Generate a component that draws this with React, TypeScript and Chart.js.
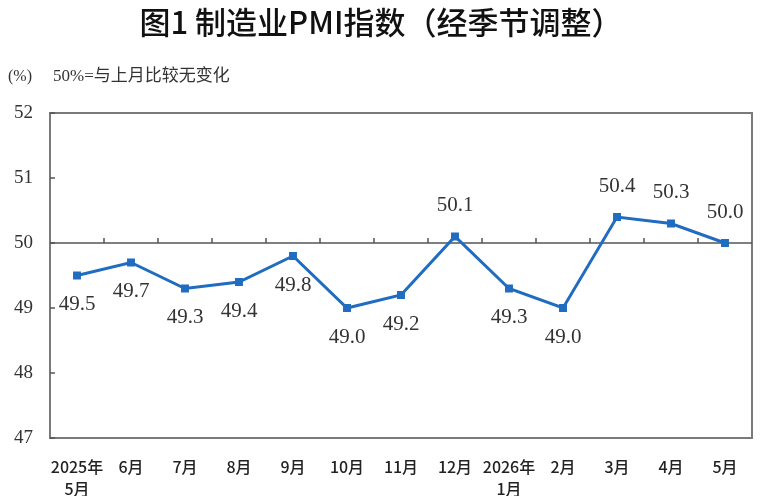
import React, { useEffect, useRef } from "react";
import { Chart, registerables } from "chart.js";

Chart.register(...registerables);

const TITLE = "图1 制造业PMI指数（经季节调整）";
const UNIT = "(%)";
const NOTE = "50%=与上月比较无变化";
const categories: (string | string[])[] = [
  ["2025年", "5月"], "6月", "7月", "8月", "9月", "10月", "11月", "12月",
  ["2026年", "1月"], "2月", "3月", "4月", "5月",
];
const pmiValues = [49.5, 49.7, 49.3, 49.4, 49.8, 49.0, 49.2, 50.1, 49.3, 49.0, 50.4, 50.3, 50.0];
const yTicks = [47, 48, 49, 50, 51, 52];
const baseline = 50;

const BLUE = "#1f6cc0";
const SERIF = "'Liberation Serif', 'Times New Roman', 'Noto Sans CJK SC', serif";
const CJK = "'Noto Sans CJK SC', 'Liberation Sans', sans-serif";

const framePlugin = {
  id: "frame",
  beforeDatasetsDraw(chart: any) {
    const { ctx, chartArea } = chart;
    const x = chart.scales.x;
    const y = chart.scales.y;
    ctx.save();
    ctx.strokeStyle = "#7a7a7a";
    ctx.lineWidth = 2;
    ctx.strokeRect(chartArea.left, chartArea.top, chartArea.right - chartArea.left, chartArea.bottom - chartArea.top);
    ctx.lineWidth = 1.5;
    ctx.strokeStyle = "#555";
    yTicks.forEach((v) => {
      const py = y.getPixelForValue(v);
      ctx.beginPath();
      ctx.moveTo(chartArea.left, py);
      ctx.lineTo(chartArea.left + 5, py);
      ctx.stroke();
    });
    const by = y.getPixelForValue(baseline);
    ctx.strokeStyle = "#555";
    ctx.lineWidth = 1.5;
    ctx.beginPath();
    ctx.moveTo(chartArea.left, by);
    ctx.lineTo(chartArea.right, by);
    ctx.stroke();
    for (let i = 0; i < categories.length - 1; i++) {
      const px = (x.getPixelForValue(i) + x.getPixelForValue(i + 1)) / 2;
      ctx.beginPath();
      ctx.moveTo(px, by);
      ctx.lineTo(px, by - 5);
      ctx.stroke();
    }
    ctx.restore();
  },
  afterDatasetsDraw(chart: any) {
    const { ctx } = chart;
    const meta = chart.getDatasetMeta(0);
    ctx.save();
    ctx.font = `21px ${SERIF}`;
    ctx.fillStyle = "#333";
    ctx.textAlign = "center";
    ctx.textBaseline = "middle";
    meta.data.forEach((pt: any, i: number) => {
      const v = pmiValues[i];
      const dy = v >= baseline ? -31 : 29;
      ctx.fillText(v.toFixed(1), pt.x, pt.y + dy);
    });
    ctx.restore();
  },
  afterDraw(chart: any) {
    const { ctx } = chart;
    ctx.save();
    ctx.fillStyle = "#111";
    ctx.font = `500 31px ${CJK}`;
    ctx.textAlign = "center";
    ctx.textBaseline = "middle";
    ctx.fillText(TITLE, 381, 22);
    ctx.fillStyle = "#333";
    ctx.textAlign = "left";
    ctx.font = `16px ${SERIF}`;
    ctx.fillText(UNIT, 8, 77);
    ctx.font = `17px ${SERIF}`;
    ctx.fillText(NOTE, 53, 77);
    ctx.restore();
  },
};

export default function App() {
  const ref = useRef<HTMLCanvasElement>(null);
  useEffect(() => {
    if (!ref.current) return;
    const chart = new Chart(ref.current, {
      type: "line",
      data: {
        labels: categories,
        datasets: [
          {
            data: pmiValues,
            borderColor: BLUE,
            backgroundColor: BLUE,
            borderWidth: 3,
            pointStyle: "rect",
            pointRadius: 5.6,
            pointBorderWidth: 0,
            pointBackgroundColor: BLUE,
            tension: 0,
          },
        ],
      },
      options: {
        animation: false,
        responsive: false,
        layout: { padding: { top: 113, right: 8, left: 0, bottom: 0 } },
        plugins: { legend: { display: false }, tooltip: { enabled: false }, title: { display: false } },
        scales: {
          x: {
            offset: true,
            grid: { display: false, drawTicks: false },
            border: { display: false },
            ticks: {
              autoSkip: false,
              maxRotation: 0,
              padding: 18,
              color: "#222",
              font: { family: CJK, size: 16, weight: 500, lineHeight: 1.375 },
            },
            afterFit: (s: any) => { s.height = 58; },
          },
          y: {
            min: 47,
            max: 52,
            grid: { display: false, drawTicks: false },
            border: { display: false },
            ticks: {
              stepSize: 1,
              padding: 17,
              color: "#333",
              font: { family: SERIF, size: 19 },
            },
            afterFit: (s: any) => { s.width = 50; },
          },
        },
      },
      plugins: [framePlugin],
    } as any);
    return () => chart.destroy();
  }, []);
  return (
    <div style={{ position: "fixed", left: 0, top: 0, width: 760, height: 496, background: "#fff" }}>
      <canvas ref={ref} width={760} height={496} style={{ width: 760, height: 496 }} />
    </div>
  );
}
